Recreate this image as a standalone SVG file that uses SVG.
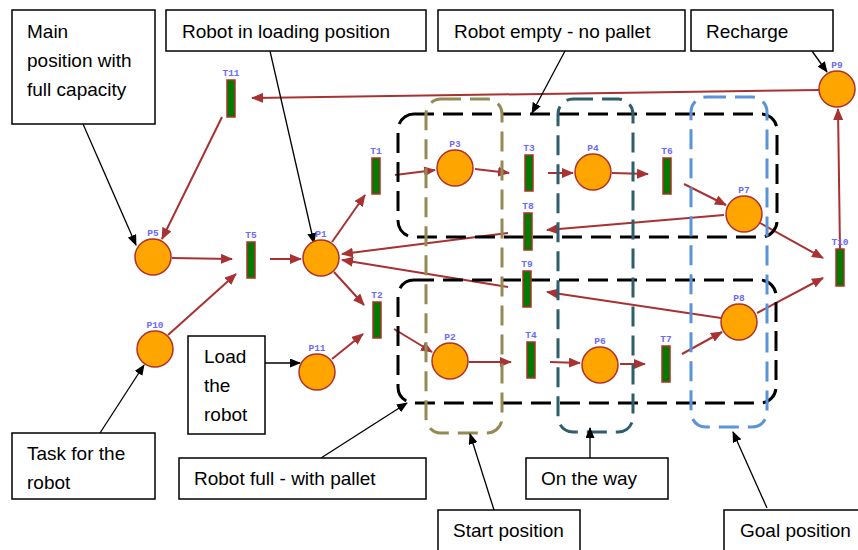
<svg xmlns="http://www.w3.org/2000/svg" width="858" height="550" viewBox="0 0 858 550">
<style>
.pl{fill:#ffa500;stroke:#b0302a;stroke-width:1.5}
.tr{fill:#007a00;stroke:#b0302a;stroke-width:1.5}
.lb{fill:#6a6aff;font-family:"Liberation Mono",monospace;font-size:9.5px;font-weight:bold;text-anchor:middle}
.arc{fill:none;stroke:#a83232;stroke-width:2;marker-end:url(#ra)}
.call{fill:none;stroke:#000;stroke-width:1.3;marker-end:url(#ba)}
.box{fill:#fff;stroke:#000;stroke-width:1.5}
.tx{fill:#000;font-family:"Liberation Sans",Arial,sans-serif;font-size:19px}
.reg{fill:none;stroke-width:3;stroke-dasharray:20 9}
</style>
<defs>
<marker id="ra" markerUnits="userSpaceOnUse" markerWidth="12" markerHeight="10" refX="11" refY="5" orient="auto"><path d="M0,0 L12,5 L0,10 z" fill="#a83232"/></marker>
<marker id="ba" markerUnits="userSpaceOnUse" markerWidth="11" markerHeight="9" refX="10" refY="4.5" orient="auto"><path d="M0,0 L11,4.5 L0,9 z" fill="#000"/></marker>
</defs>
<rect width="858" height="550" fill="#fff"/>

<g id="connectors">
<line class="arc" x1="819" y1="90" x2="252" y2="98"/>
<line class="arc" x1="222" y1="117" x2="162" y2="239"/>
<line class="arc" x1="172" y1="258" x2="232" y2="259"/>
<line class="arc" x1="168" y1="335" x2="236" y2="274"/>
<line class="arc" x1="270" y1="259" x2="301" y2="259"/>
<line class="arc" x1="332" y1="242" x2="365" y2="195"/>
<line class="arc" x1="334" y1="272" x2="364" y2="305"/>
<line class="arc" x1="332" y1="359" x2="363" y2="334"/>
<line class="arc" x1="395" y1="175" x2="435" y2="170"/>
<line class="arc" x1="475" y1="169" x2="509" y2="173"/>
<line class="arc" x1="548" y1="173" x2="573" y2="173"/>
<line class="arc" x1="612" y1="173" x2="648" y2="174"/>
<line class="arc" x1="684" y1="184" x2="726" y2="205"/>
<line class="arc" x1="724" y1="215" x2="547" y2="230"/>
<line class="arc" x1="508" y1="233" x2="342" y2="254"/>
<line class="arc" x1="508" y1="287" x2="342" y2="260"/>
<line class="arc" x1="721" y1="318" x2="547" y2="292"/>
<line class="arc" x1="394" y1="329" x2="432" y2="352"/>
<line class="arc" x1="469" y1="362" x2="511" y2="362"/>
<line class="arc" x1="550" y1="362" x2="580" y2="363"/>
<line class="arc" x1="620" y1="364" x2="645" y2="364"/>
<line class="arc" x1="682" y1="354" x2="722" y2="332"/>
<line class="arc" x1="760" y1="223" x2="823" y2="258"/>
<line class="arc" x1="757" y1="313" x2="823" y2="278"/>
<line class="arc" x1="840" y1="249" x2="838" y2="109"/>
</g>

<g id="regions">
<g id="region-empty"><rect class="reg" x="398" y="114" width="379" height="123" rx="16" stroke="#000"/></g>
<g id="region-full"><rect class="reg" x="398" y="280" width="378" height="123" rx="16" stroke="#000"/></g>
<g id="region-start"><rect class="reg" x="426" y="99" width="76" height="334" rx="15" stroke="#948a54" stroke-width="2.5"/></g>
<g id="region-way"><rect class="reg" x="558" y="99" width="75" height="333" rx="15" stroke="#2e5d6b" stroke-width="2.5"/></g>
<g id="region-goal"><rect class="reg" x="691" y="97" width="76" height="330" rx="15" stroke="#5b93d8" stroke-width="2.5"/></g>
</g>

<g id="callout-links">
<line class="call" x1="83" y1="124" x2="136" y2="245"/>
<line class="call" x1="270" y1="51" x2="314" y2="243"/>
<line class="call" x1="565" y1="51" x2="532" y2="113"/>
<line class="call" x1="812" y1="51" x2="827" y2="72"/>
<line class="call" x1="265" y1="363" x2="300" y2="363"/>
<line class="call" x1="100" y1="433" x2="144" y2="365"/>
<line class="call" x1="321" y1="458" x2="407" y2="403"/>
<line class="call" x1="494" y1="510" x2="470" y2="434"/>
<line class="call" x1="590" y1="458" x2="590" y2="428"/>
<line class="call" x1="767" y1="508" x2="733" y2="432"/>
</g>

<g id="P5"><circle class="pl" cx="153" cy="257" r="18"/><text class="lb" x="153" y="236">P5</text></g>
<g id="P10"><circle class="pl" cx="155" cy="349" r="18"/><text class="lb" x="155" y="328">P10</text></g>
<g id="P1"><circle class="pl" cx="321" cy="258" r="18"/><text class="lb" x="321" y="237">P1</text></g>
<g id="P11"><circle class="pl" cx="317" cy="372" r="18"/><text class="lb" x="317" y="351">P11</text></g>
<g id="P3"><circle class="pl" cx="455" cy="168" r="18"/><text class="lb" x="455" y="147">P3</text></g>
<g id="P4"><circle class="pl" cx="593" cy="172" r="18"/><text class="lb" x="593" y="151">P4</text></g>
<g id="P7"><circle class="pl" cx="744" cy="214" r="18"/><text class="lb" x="744" y="193">P7</text></g>
<g id="P8"><circle class="pl" cx="739" cy="322" r="18"/><text class="lb" x="739" y="301">P8</text></g>
<g id="P9"><circle class="pl" cx="837" cy="89" r="18"/><text class="lb" x="837" y="68">P9</text></g>
<g id="P2"><circle class="pl" cx="450" cy="361" r="18"/><text class="lb" x="450" y="340">P2</text></g>
<g id="P6"><circle class="pl" cx="600" cy="365" r="18"/><text class="lb" x="600" y="344">P6</text></g>

<g id="T11"><rect class="tr" x="227" y="80" width="8" height="37"/><text class="lb" x="231" y="76">T11</text></g>
<g id="T5"><rect class="tr" x="247" y="242" width="8" height="36"/><text class="lb" x="251" y="238">T5</text></g>
<g id="T1"><rect class="tr" x="372" y="158" width="8" height="36"/><text class="lb" x="376" y="154">T1</text></g>
<g id="T2"><rect class="tr" x="373" y="302" width="8" height="36"/><text class="lb" x="377" y="298">T2</text></g>
<g id="T3"><rect class="tr" x="525" y="155" width="8" height="36"/><text class="lb" x="529" y="151">T3</text></g>
<g id="T6"><rect class="tr" x="663" y="158" width="8" height="36"/><text class="lb" x="667" y="154">T6</text></g>
<g id="T8"><rect class="tr" x="524" y="213" width="8" height="37"/><text class="lb" x="528" y="209">T8</text></g>
<g id="T9"><rect class="tr" x="523" y="271" width="8" height="36"/><text class="lb" x="527" y="267">T9</text></g>
<g id="T4"><rect class="tr" x="527" y="342" width="8" height="36"/><text class="lb" x="531" y="338">T4</text></g>
<g id="T7"><rect class="tr" x="662" y="346" width="8" height="36"/><text class="lb" x="666" y="342">T7</text></g>
<g id="T10"><rect class="tr" x="836" y="249" width="8" height="37"/><text class="lb" x="840" y="245">T10</text></g>

<g id="note-main"><rect class="box" x="12" y="10" width="143" height="114"/><text class="tx" x="27" y="38">Main</text><text class="tx" x="27" y="67">position with</text><text class="tx" x="27" y="96">full capacity</text></g>
<g id="note-loading"><rect class="box" x="166" y="10" width="260" height="41"/><text class="tx" x="182" y="38">Robot in loading position</text></g>
<g id="note-empty"><rect class="box" x="438" y="10" width="247" height="41"/><text class="tx" x="454" y="38">Robot empty - no pallet</text></g>
<g id="note-recharge"><rect class="box" x="691" y="10" width="142" height="41"/><text class="tx" x="706" y="38">Recharge</text></g>
<g id="note-load"><rect class="box" x="188" y="336" width="77" height="98"/><text class="tx" x="204" y="363">Load</text><text class="tx" x="204" y="392">the</text><text class="tx" x="204" y="421">robot</text></g>
<g id="note-task"><rect class="box" x="12" y="433" width="143" height="66"/><text class="tx" x="27" y="460">Task for the</text><text class="tx" x="27" y="489">robot</text></g>
<g id="note-full"><rect class="box" x="179" y="458" width="247" height="41"/><text class="tx" x="194" y="485">Robot full - with pallet</text></g>
<g id="note-way"><rect class="box" x="526" y="458" width="142" height="41"/><text class="tx" x="541" y="485">On the way</text></g>
<g id="note-start"><rect class="box" x="438" y="510" width="142" height="45"/><text class="tx" x="453" y="537">Start position</text></g>
<g id="note-goal"><rect class="box" x="724" y="510" width="140" height="45"/><text class="tx" x="740" y="537">Goal position</text></g>
</svg>
